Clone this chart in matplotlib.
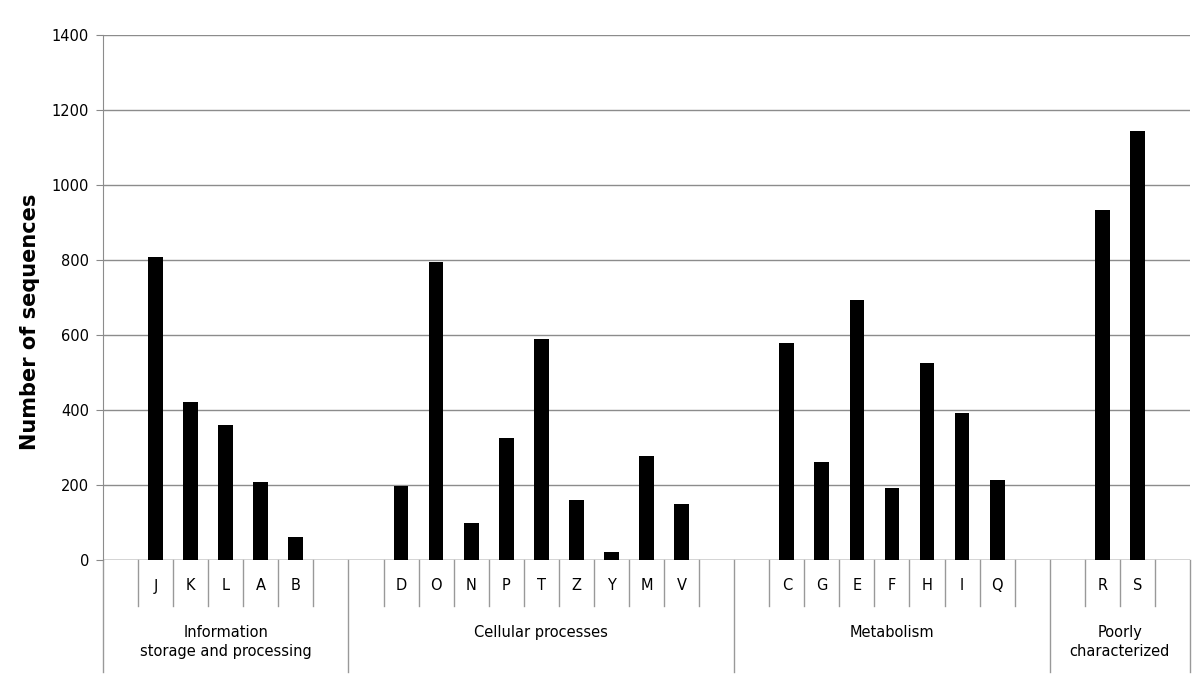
import matplotlib
matplotlib.use("Agg")
import matplotlib.pyplot as plt
from matplotlib.transforms import blended_transform_factory

# Data
groups = ["Information\nstorage and processing", "Cellular processes", "Metabolism", "Poorly\ncharacterized"]
group_cats = [
    ["J", "K", "L", "A", "B"],
    ["D", "O", "N", "P", "T", "Z", "Y", "M", "V"],
    ["C", "G", "E", "F", "H", "I", "Q"],
    ["R", "S"],
]
group_vals = [
    [807, 421, 360, 208, 62],
    [198, 795, 98, 325, 589, 160, 22, 278, 150],
    [579, 262, 693, 192, 525, 392, 213],
    [934, 1145],
]
yticks = [0, 200, 400, 600, 800, 1000, 1200, 1400]

plt.rcParams['font.family'] = ['DejaVu Sans']

fig = plt.figure(figsize=(12, 6.96), dpi=100)
ax = fig.add_axes([103/1200, 1-560/696, (1190-103)/1200, 525/696])

# build slot layout: each group has an empty slot before and after
labels = []
values = []
group_bounds = []
pos = 0
for cats, vals in zip(group_cats, group_vals):
    start = pos
    labels.append("")
    values.append(None)
    pos += 1
    for c, v in zip(cats, vals):
        labels.append(c)
        values.append(v)
        pos += 1
    labels.append("")
    values.append(None)
    pos += 1
    group_bounds.append((start, pos))

n = len(labels)
xs = [i for i, v in enumerate(values) if v is not None]
hs = [v for v in values if v is not None]
ax.bar(xs, hs, width=0.42, color="black", zorder=3)

ax.set_xlim(-0.5, n - 0.5)
ax.set_ylim(0, 1400)
ax.set_yticks(yticks)
ax.tick_params(axis='y', labelsize=10.5, length=5, color='#888888', pad=5)
ax.set_xticks([])
ax.yaxis.grid(True, color='#8c8c8c', linewidth=1)
ax.set_axisbelow(True)
for s in ['top', 'right', 'bottom']:
    ax.spines[s].set_visible(False)
ax.spines['left'].set_color('#8c8c8c')
ax.axhline(0, color='#8c8c8c', linewidth=1, zorder=2)

ax.set_ylabel("Number of sequences", fontsize=15, fontweight='bold')
ax.yaxis.set_label_coords(-0.058, (560-322)/525)

tr = blended_transform_factory(ax.transData, ax.transAxes)
lc = '#999999'
y_row1 = -46/525
y_row2 = -112/525
group_edges = set()
for (a, b) in group_bounds:
    group_edges.add(a - 0.5)
    group_edges.add(b - 0.5)
for i in range(n + 1):
    x = i - 0.5
    if x in group_edges:
        ax.plot([x, x], [0, y_row2], color=lc, lw=1, transform=tr, clip_on=False)
    else:
        ax.plot([x, x], [0, y_row1], color=lc, lw=1, transform=tr, clip_on=False)

for i, lab in enumerate(labels):
    if lab:
        ax.text(i, -26/525, lab, ha='center', va='center', fontsize=10.5, transform=tr)

for g, (a, b) in zip(groups, group_bounds):
    ax.text((a + b - 1) / 2, -65/525, g, ha='center', va='top', fontsize=10.5,
            linespacing=1.35, transform=tr)

fig.savefig("out.png", dpi=100, facecolor='white')
